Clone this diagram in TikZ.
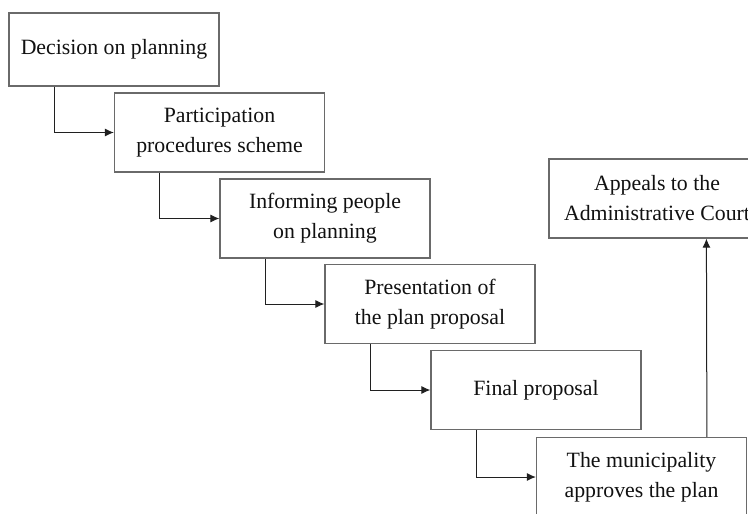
\documentclass[tikz,border=0pt]{standalone}
\usepackage{fontspec}
\setmainfont{Liberation Serif}
\usetikzlibrary{positioning, arrows.meta, calc}
\usepackage{xcolor}
\definecolor{boxline}{HTML}{6A6A6A}
\definecolor{flowline}{HTML}{202020}
\definecolor{boxtext}{HTML}{111111}
\tikzset{
  stepbox/.style={draw=boxline, fill=white, line width=0.6pt, text=boxtext,
    font=\fontsize{10.9}{15}\selectfont, minimum width=105pt, minimum height=39.5pt,
    align=center, inner sep=0pt},
  flow/.style={-{Latex[length=4.5pt,width=4pt]}, color=flowline, line width=0.5pt}
}

\begin{document}
\begin{tikzpicture}[x=0.5pt, y=-0.5pt]
      \useasboundingbox (0,0) rectangle (748,513);
      \clip (0,0) rectangle (748,513);
      \node[stepbox, minimum height=36.5pt] (decision) at (114,49.5) {Decision on planning};
      \node[stepbox] (participation) at (219.5,132.5) {Participation\\procedures scheme};
      \node[stepbox] (informing) at (325,218.5) {Informing people\\on planning};
      \node[stepbox] (presentation) at (430,304) {Presentation of\\the plan proposal};
      \node[stepbox] (final) at (536,390) {Final proposal};
      \node[stepbox] (approves) at (641.5,477) {The municipality\\approves the plan};
      \node[stepbox, minimum width=108pt] (appeals) at (657,198.5) {Appeals to the\\Administrative Court};
      \draw[flow] ([xshift=23pt]decision.south west) |- (participation.west);
      \draw[flow] ([xshift=23pt]participation.south west) |- (informing.west);
      \draw[flow] ([xshift=23pt]informing.south west) |- (presentation.west);
      \draw[flow] ([xshift=23pt]presentation.south west) |- (final.west);
      \draw[flow] ([xshift=23pt]final.south west) |- (approves.west);
      \draw[flow] ([xshift=85.5pt]approves.north west) -- ([xshift=79pt]appeals.south west);
    \end{tikzpicture}
\end{document}
